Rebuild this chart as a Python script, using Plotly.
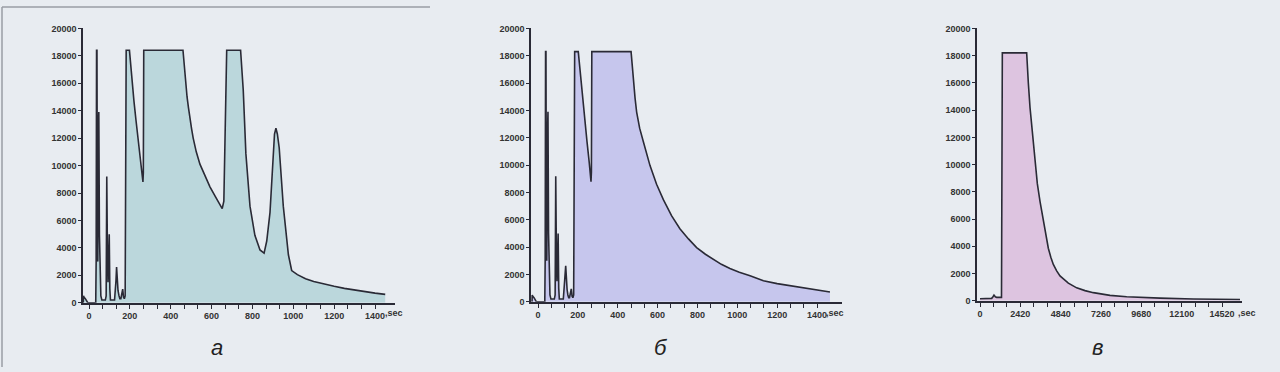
import plotly.graph_objects as go

# ---------------- data ----------------
# panel а
a_t = [-28, -27, -24, -18, -12, -6, 33, 35, 37, 39, 41, 43, 45, 48, 51, 54, 58, 63, 80, 84, 87, 90, 93, 96, 99, 102, 105,
       125, 129, 132, 135, 138, 142, 147, 151, 156, 160, 165, 169, 173, 177, 179, 182, 198, 203, 210, 220, 230, 243, 255,
       264, 266, 268, 460, 463, 468, 474, 480, 487, 494, 502, 510, 525, 543, 565, 592, 620, 640, 652, 660, 664, 670, 674,
       742, 748, 755, 768, 788, 812, 837, 857, 870, 886, 895, 902, 908, 915, 922, 931, 951, 976, 992, 1020, 1060, 1100,
       1150, 1200, 1250, 1300, 1350, 1400, 1450]
a_v = [0, 500, 400, 300, 100, 0, 0, 3000, 18400, 18400, 5000, 3000, 12000, 13900, 5000, 2000, 500, 200, 200, 500, 9200,
       4000, 1500, 3000, 5000, 1000, 200,
       200, 800, 1600, 2600, 1400, 900, 500, 300, 300, 600, 1000, 400, 300, 500, 10000, 18400, 18400, 17500, 16300, 14700,
       13300, 11700, 10200,
       8800, 9500, 18400, 18400, 17800, 16800, 15800, 15000, 14200, 13400, 12700, 12000, 11000, 10100, 9300, 8450, 7700,
       7200, 6860, 7400, 10000, 16000, 18400,
       18400, 17000, 15500, 10850, 7040, 4920, 3850, 3620, 4500, 6590, 9000, 11300, 12300, 12720, 12300, 11300, 7040, 3500,
       2350, 2050, 1750, 1550,
       1350, 1200, 1050, 920, 800, 700, 610]

# panel б
b_t = [-30, -29, -26, -20, -14, -8, 34, 36, 38, 40, 42, 44, 47, 50, 53, 56, 60, 65, 82, 86, 89, 92, 95, 98, 101, 104, 107,
       127, 131, 134, 139, 142, 146, 150, 154, 158, 162, 167, 171, 175, 179, 181, 184, 202, 207, 214, 224, 234, 246, 257,
       266, 268, 270, 467, 472, 480, 487, 495, 510, 528, 545, 562, 595, 629, 670, 712, 755, 796, 840, 880, 920, 963, 1010,
       1064, 1131, 1200, 1298, 1380, 1465]
b_v = [0, 500, 400, 300, 100, 0, 0, 3000, 18300, 18300, 5000, 3000, 12000, 13900, 5000, 2000, 500, 200, 200, 500, 9180,
       4000, 1500, 3000, 5000, 1000, 200,
       200, 800, 1600, 2630, 1400, 900, 500, 300, 300, 600, 950, 400, 300, 500, 10000, 18300, 18300, 17500, 16300, 14700,
       13300, 11700, 10200,
       8780, 9500, 18300, 18300, 17300, 16000, 14900, 13880, 12700, 11740, 10800, 9960, 8600, 7470, 6300, 5340, 4600, 3960,
       3480, 3080, 2740, 2440, 2160,
       1900, 1540, 1330, 1115, 920, 712]

# panel в
c_t = [0, 300, 700, 780, 840, 920, 1000, 1290, 1310, 1340, 2800, 2850, 2900, 3000, 3160, 3300, 3440, 3600, 3760, 3930,
       4100, 4250, 4400, 4600, 4800, 5300, 5800, 6300, 6800, 7800, 8800, 10800, 12800, 15600]
c_v = [150, 170, 180, 300, 420, 300, 250, 250, 10000, 18200, 18200, 17400, 16000, 14200, 12000, 10200, 8600, 7300, 6240,
       5000, 3860, 3200, 2670, 2200, 1830, 1300, 950, 750, 600, 400, 300, 200, 130, 100]

a_ticks = [0, 200, 400, 600, 800, 1000, 1200, 1400]
c_ticks = [0, 2420, 4840, 7260, 9680, 12100, 14520]
y_ticks = list(range(0, 20001, 2000))

panel_labels = ["а", "б", "в"]

# ---------------- figure ----------------
W, H = 1280, 372
LINE = "#2a2a36"
fills = ["rgba(184,214,218,0.95)", "rgba(196,196,236,0.95)", "rgba(220,194,222,0.95)"]

fig = go.Figure()
for i, (t, v) in enumerate([(a_t, a_v), (b_t, b_v), (c_t, c_v)]):
    sfx = "" if i == 0 else str(i + 1)
    fig.add_trace(go.Scatter(x=t, y=v, mode="lines", fill="tozeroy", fillcolor=fills[i],
                             line=dict(color=LINE, width=1.6), xaxis="x" + sfx, yaxis="y" + sfx,
                             showlegend=False, hoverinfo="skip"))

tickfont = dict(family="Liberation Sans, Arial", size=9, color="#333333", weight="bold")


def with_minor(major, n_sub):
    vals, texts = [], []
    step = major[1] - major[0]
    for k, m in enumerate(major):
        vals.append(m)
        texts.append(str(m))
        if k < len(major) - 1:
            for s in range(1, n_sub):
                vals.append(m + step * s / n_sub)
                texts.append("")
    return vals, texts


def xax(domain, rng, ticks, anchor):
    vals, texts = with_minor(ticks, 3)
    return dict(domain=domain, range=rng, anchor=anchor, showgrid=False, zeroline=False,
                showline=True, linecolor=LINE, linewidth=1.5, ticks="outside", ticklen=4,
                tickcolor=LINE, tickwidth=1.2, tickmode="array", tickvals=vals, ticktext=texts,
                tickfont=tickfont, fixedrange=True)


def yax(domain, anchor):
    return dict(domain=domain, range=[0, 20000], anchor=anchor, showgrid=False, zeroline=False,
                showline=True, linecolor=LINE, linewidth=1.5, ticks="outside", ticklen=3,
                tickcolor=LINE, tickwidth=1.2, tickmode="array", tickvals=y_ticks,
                ticktext=[str(v) for v in y_ticks], tickfont=tickfont, fixedrange=True)


fig.update_layout(
    width=W, height=H, margin=dict(l=0, r=0, t=0, b=0),
    paper_bgcolor="#e8ecf1", plot_bgcolor="rgba(0,0,0,0)",
    xaxis=xax([83 / W, 395 / W], [(83 - 89) / 0.2043, (395 - 89) / 0.2043], a_ticks, "y"),
    yaxis=yax([1 - 306 / H, 1 - 24 / H], "x"),
    xaxis2=xax([531 / W, 842 / W], [(531 - 538) / 0.1993, (842 - 538) / 0.1993], a_ticks, "y2"),
    yaxis2=yax([1 - 305 / H, 1 - 24 / H], "x2"),
    xaxis3=xax([977 / W, 1242 / W], [(977 - 980) * 60, (1242 - 980) * 60], c_ticks, "y3"),
    yaxis3=yax([1 - 304 / H, 1 - 24 / H], "x3"),
)

# ",sec" suffixes and panel letters
for xp, yp in [(383, 316), (824, 316), (1236, 316)]:
    fig.add_annotation(x=xp / W, y=1 - yp / H, xref="paper", yref="paper", text=",sec", showarrow=False,
                       xanchor="left", yanchor="middle", font=tickfont)
for lab, xp in zip(panel_labels, [217, 661, 1097]):
    fig.add_annotation(x=xp / W, y=1 - 352 / H, xref="paper", yref="paper", text="<i>" + lab + "</i>",
                       showarrow=False, xanchor="center", yanchor="middle",
                       font=dict(family="Liberation Sans, Arial", size=22, color="#222222"))

# scan frame of the first panel
fig.add_shape(type="line", xref="paper", yref="paper", x0=2 / W, x1=2 / W, y0=0, y1=1 - 2 / H,
              line=dict(color="#9a9ea4", width=1.5))
fig.add_shape(type="line", xref="paper", yref="paper", x0=2 / W, x1=430 / W, y0=1 - 2 / H, y1=1 - 2 / H,
              line=dict(color="#9a9ea4", width=1.5))

fig.write_html("out.html")
